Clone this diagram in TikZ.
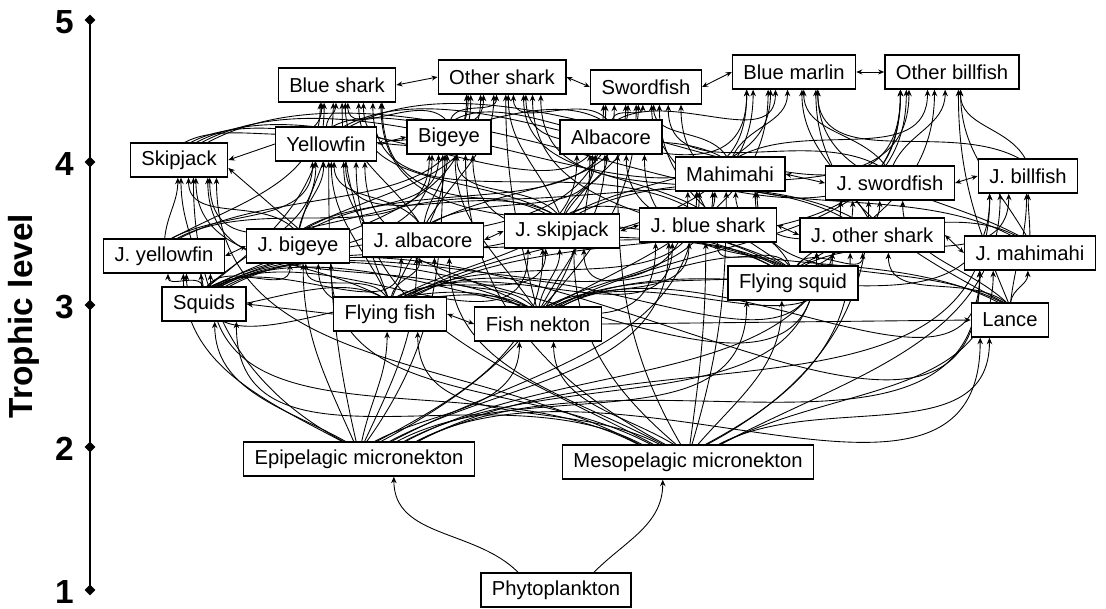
\documentclass[tikz,border=0pt]{standalone}
\usepackage{fontspec}
\setmainfont{Liberation Sans}
\usetikzlibrary{arrows.meta, calc, shapes.geometric, backgrounds}
\tikzset{
  box/.style={
    draw, line width=0.8pt, fill=white, inner xsep=2.2mm,
    minimum height=6.8mm, font=\fontsize{11.5}{13}\selectfont
  },
  feed/.style={-{Stealth[length=1.3mm, width=1.1mm]}, line width=0.5pt},
  side/.style={{Stealth[length=1.2mm, width=1mm]}-{Stealth[length=1.2mm, width=1mm]}, line width=0.5pt},
  tickmark/.style={diamond, fill, inner sep=1.6pt},
  lvl/.style={font=\fontsize{19}{22}\selectfont\bfseries},
}
% prey #1 is eaten by every node of the list #2
\newcommand{\eatenby}[2]{%
  \foreach \q in {#2}{
    \draw[feed] let \p1=(#1.north), \p2=(\q.south),
      \n1={scalar(90-62*max(-1,min(1,(\x2-\x1)/90)))},
      \n2={scalar(max(0.12,min(0.88,0.5+(\x1-\x2)/700)))},
      \n3={scalar(max(0.2,min(0.8,0.5+(\x2-\x1)/1500)))}
      in ($(#1.north west)!\n3!(#1.north east)$) to[out=\n1, in=-90]
         ($(\q.south west)!\n2!(\q.south east)$);
  }}

\begin{document}
\begin{tikzpicture}[x=0.2mm, y=0.2mm]
  \useasboundingbox (0,0) rectangle (1106,-608);

  % trophic axis
  \coordinate (t1) at (90,-590);
  \coordinate (t2) at (90,-447);
  \coordinate (t3) at (90,-305);
  \coordinate (t4) at (90,-162);
  \coordinate (t5) at (90,-20);
  \draw[line width=0.8pt] (t1) -- (t5);
  \foreach \i in {1,...,5}{
    \node[tickmark] at (t\i) {};
    \node[lvl, anchor=east] (lv\i) at ($(t\i)+(-10,-2)$) {\i};
  }
  \node[lvl, rotate=90] (ylabel) at (24,-316) {Trophic level};

  % top predators
  \node[box] (bsh)   at (337,-85)  {Blue shark};
  \node[box] (osh)   at (502,-77)  {Other shark};
  \node[box] (swo)   at (646,-87)  {Swordfish};
  \node[box] (bum)   at (794,-72)  {Blue marlin};
  \node[box] (obill) at (952,-72)  {Other billfish};
  % adults
  \node[box] (skj)   at (179,-160) {Skipjack};
  \node[box] (yft)   at (326,-144) {Yellowfin};
  \node[box] (bet)   at (449,-137) {Bigeye};
  \node[box] (alb)   at (611,-137) {Albacore};
  \node[box] (mahi)  at (730,-174) {Mahimahi};
  \node[box] (jswo)  at (890,-183) {J. swordfish};
  \node[box] (jbill) at (1028,-176) {J. billfish};
  % juveniles
  \node[box] (jyft)  at (164,-256) {J. yellowfin};
  \node[box] (jbet)  at (298,-246) {J. bigeye};
  \node[box] (jalb)  at (423,-240) {J. albacore};
  \node[box] (jskj)  at (562,-231) {J. skipjack};
  \node[box] (jbsh)  at (708,-225) {J. blue shark};
  \node[box] (josh)  at (872,-235) {J. other shark};
  \node[box] (jmahi) at (1030,-253) {J. mahimahi};
  % forage
  \node[box] (fsquid) at (793,-283) {Flying squid};
  \node[box] (squids) at (204,-304) {Squids};
  \node[box] (ffish)  at (390,-314) {Flying fish};
  \node[box] (fnek)   at (538,-324) {Fish nekton};
  \node[box] (lance)  at (1010,-320) {Lance};
  % base
  \node[box] (epi)   at (359,-459) {Epipelagic micronekton};
  \node[box] (meso)  at (688,-462) {Mesopelagic micronekton};
  \node[box] (phyto) at (556,-590) {Phytoplankton};

  \begin{scope}[on background layer]
    \fill[white] (0,0) rectangle (1106,-608);
    \draw[feed] ($(phyto.north west)!0.25!(phyto.north east)$) to[out=135, in=-90]
      ($(epi.south west)!0.65!(epi.south east)$);
    \draw[feed] ($(phyto.north west)!0.75!(phyto.north east)$) to[out=45, in=-90]
      ($(meso.south west)!0.4!(meso.south east)$);

    \eatenby{epi}{squids,ffish,fnek,fsquid,lance,jyft,jbet,jalb,jskj,jbsh,josh,jmahi,jswo,jbill,skj,yft,bet,alb,mahi}
    \eatenby{meso}{squids,ffish,fnek,fsquid,lance,jyft,jbet,jalb,jskj,jbsh,josh,jmahi,jswo,jbill,skj,yft,bet,alb,mahi}
    \eatenby{squids}{jyft,jbet,jalb,jskj,jbsh,josh,jmahi,skj,yft,bet,alb,mahi,swo,bsh,osh}
    \eatenby{ffish}{jyft,jbet,jalb,jskj,jbsh,josh,skj,yft,bet,alb,mahi,bum,obill,bsh}
    \eatenby{fnek}{jyft,jbet,jalb,jskj,jbsh,josh,jmahi,jswo,jbill,skj,yft,bet,alb,mahi,swo,bum,obill,osh}
    \eatenby{fsquid}{jskj,jbsh,josh,jswo,jbill,yft,bet,alb,mahi,swo,bsh,osh,obill}
    \eatenby{lance}{jmahi,jbill,jswo,josh,mahi,alb,obill,bum}
    \eatenby{jyft}{skj,yft,bet,bsh,osh}
    \eatenby{jbet}{skj,yft,bet,bsh,osh,swo}
    \eatenby{jalb}{yft,bet,alb,bsh,osh,swo}
    \eatenby{jskj}{skj,yft,bet,alb,mahi,bsh,osh,swo,bum,obill}
    \eatenby{jbsh}{bsh,osh,swo}
    \eatenby{josh}{osh,bsh,bum}
    \eatenby{jmahi}{mahi,jbill,obill,bum,swo}
    \eatenby{jswo}{swo,obill,bum}
    \eatenby{jbill}{obill,bum}
    \eatenby{skj}{bsh,osh,bum,obill,swo}
    \eatenby{yft}{bsh,osh,bum,obill}
    \eatenby{bet}{bsh,osh,swo}
    \eatenby{alb}{osh,swo,bsh,bum}
    \eatenby{mahi}{bum,obill,swo,osh}

    % links between neighbours
    \draw[side] (osh.west) -- (bsh.east);
    \draw[side] (swo.west) -- (osh.east);
    \draw[side] (bum.west) -- (swo.east);
    \draw[side] (obill.west) -- (bum.east);
    \draw[feed] (yft.west) -- (skj.east);
    \draw[feed] (jbet.north) -- ($(skj.east)+(0,-8)$);
    \draw[side] (bet.west) -- (yft.east);
    \draw[side] (jswo.west) -- (mahi.east);
    \draw[side] (jbill.west) -- (jswo.east);
    \draw[side] (jbet.west) -- (jyft.east);
    \draw[side] (jskj.west) -- (jalb.east);
    \draw[side] (jbsh.west) -- (jskj.east);
    \draw[side] (josh.west) -- (jbsh.east);
    \draw[side] (jmahi.west) -- (josh.east);
    \draw[feed] (ffish.west) -- (squids.east);
    \draw[side] (fnek.west) -- (ffish.east);
    \draw[feed] (fnek.east) -- (lance.west);
  \end{scope}
\end{tikzpicture}
\end{document}
